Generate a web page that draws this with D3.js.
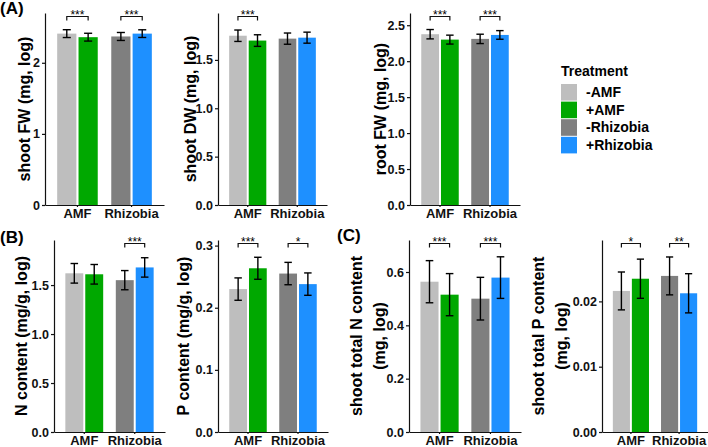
<!DOCTYPE html>
<html>
<head>
<meta charset="utf-8">
<script src="https://cdn.jsdelivr.net/npm/d3@7"></script>
<style>
body { margin: 0; background: #fff; }
svg text { font-family: "Liberation Sans", Arial, sans-serif; font-weight: bold; }
</style>
</head>
<body>
<svg id="chart" width="708" height="447"></svg>
<script>
// ---- data ----
var groups = ['AMF', 'Rhizobia'];
var treatments = ['-AMF', '+AMF', '-Rhizobia', '+Rhizobia'];

var shootFW = [2.41, 2.36, 2.37, 2.41];
var shootFWErr = [0.055, 0.055, 0.056, 0.054];
var shootFWSig = ['***', '***'];

var shootDW = [1.75, 1.70, 1.72, 1.73];
var shootDWErr = [0.059, 0.06, 0.058, 0.057];
var shootDWSig = ['***', ''];

var rootFW = [2.375, 2.30, 2.31, 2.365];
var rootFWErr = [0.065, 0.062, 0.065, 0.06];
var rootFWSig = ['***', '***'];

var nContent = [1.62, 1.61, 1.55, 1.68];
var nContentErr = [0.1, 0.1, 0.098, 0.099];
var nContentSig = ['', '***'];

var pContent = [0.230, 0.2635, 0.255, 0.238];
var pContentErr = [0.018, 0.0177, 0.018, 0.018];
var pContentSig = ['***', '*'];

var totalN = [0.5636, 0.515, 0.50, 0.579];
var totalNErr = [0.079, 0.079, 0.08, 0.078];
var totalNSig = ['***', '***'];

var totalP = [0.0216, 0.02347, 0.0239, 0.02124];
var totalPErr = [0.0029, 0.003, 0.0029, 0.003];
var totalPSig = ['*', '**'];

var palette = ['#bebebe', '#00a800', '#7f7f7f', '#1e90ff'];

var svg = d3.select('#chart');

// layout of each small plot
var panels = [
    {vals: shootFW, errs: shootFWErr, sig: shootFWSig, x0: 45, x1: 164, y0: 13, y1: 205,
     ymax: 2.7, ticks: [0, 1, 2], fmt: 'd', label: ['shoot FW (mg, log)'], lx: [24]},
    {vals: shootDW, errs: shootDWErr, sig: shootDWSig, x0: 218, x1: 327, y0: 13, y1: 205,
     ymax: 1.985, ticks: [0, 0.5, 1, 1.5], fmt: '.1f', label: ['shoot DW (mg, log)'], lx: [190]},
    {vals: rootFW, errs: rootFWErr, sig: rootFWSig, x0: 410, x1: 520, y0: 13, y1: 205,
     ymax: 2.67, ticks: [0, 0.5, 1, 1.5, 2, 2.5], fmt: '.1f', label: ['root FW (mg, log)'], lx: [380]},
    {vals: nContent, errs: nContentErr, sig: nContentSig, x0: 54, x1: 165, y0: 240, y1: 432,
     ymax: 1.96, ticks: [0, 0.5, 1, 1.5], fmt: '.1f', label: ['N content (mg/g, log)'], lx: [21]},
    {vals: pContent, errs: pContentErr, sig: pContentSig, x0: 218, x1: 328, y0: 240, y1: 432,
     ymax: 0.309, ticks: [0, 0.1, 0.2, 0.3], fmt: '.1f', label: ['P content (mg/g, log)'], lx: [183]},
    {vals: totalN, errs: totalNErr, sig: totalNSig, x0: 409, x1: 521, y0: 240, y1: 432,
     ymax: 0.72, ticks: [0, 0.2, 0.4, 0.6], fmt: '.1f', label: ['shoot total N content', '(mg, log)'], lx: [356, 379]},
    {vals: totalP, errs: totalPErr, sig: totalPSig, x0: 602, x1: 708, y0: 240, y1: 432,
     ymax: 0.0294, ticks: [0, 0.01, 0.02], fmt: '.2f', label: ['shoot total P content', '(mg, log)'], lx: [538, 561]}
];

panels.forEach(drawPanel);

function drawPanel(p) {
    var g = svg.append('g');
    var x = d3.scaleBand().domain(groups).range([p.x0, p.x1])
        .paddingInner(0.25).paddingOuter(0.225);
    var xs = d3.scaleBand().domain([0, 1]).range([0, x.bandwidth()]).paddingInner(0.1);
    var y = d3.scaleLinear().domain([0, p.ymax]).range([p.y1, p.y0]);

    var data = p.vals.map(function(v, i) {
        return {v: v, e: p.errs[i], g: groups[Math.floor(i / 2)], s: i % 2, c: palette[i]};
    });
    function cx(d) { return x(d.g) + xs(d.s) + xs.bandwidth() / 2; }

    g.selectAll('.bar')
        .data(data)
        .enter().append('rect')
        .attr('class', 'bar')
        .attr('x', function(d) { return x(d.g) + xs(d.s); })
        .attr('width', xs.bandwidth())
        .attr('y', function(d) { return y(d.v); })
        .attr('height', function(d) { return y(0) - y(d.v); })
        .style('fill', function(d) { return d.c; });

    // error bars
    var capW = xs.bandwidth() * 0.42;
    var eb = g.selectAll('.err').data(data).enter().append('g').attr('class', 'err')
        .style('stroke', '#000').style('stroke-width', 1.4);
    eb.append('line')
        .attr('x1', cx).attr('x2', cx)
        .attr('y1', function(d) { return y(d.v - d.e); })
        .attr('y2', function(d) { return y(d.v + d.e); });
    eb.append('line')
        .attr('x1', function(d) { return cx(d) - capW / 2; })
        .attr('x2', function(d) { return cx(d) + capW / 2; })
        .attr('y1', function(d) { return y(d.v + d.e); })
        .attr('y2', function(d) { return y(d.v + d.e); });
    eb.append('line')
        .attr('x1', function(d) { return cx(d) - capW / 2; })
        .attr('x2', function(d) { return cx(d) + capW / 2; })
        .attr('y1', function(d) { return y(d.v - d.e); })
        .attr('y2', function(d) { return y(d.v - d.e); });

    // axes
    var yAxis = d3.axisLeft(y).tickValues(p.ticks).tickFormat(d3.format(p.fmt))
        .tickSize(3).tickSizeOuter(0).tickPadding(2);
    var ya = g.append('g').attr('transform', 'translate(' + p.x0 + ',0)').call(yAxis);
    ya.selectAll('text').style('font-size', '12.5px').style('fill', '#111');

    var xAxis = d3.axisBottom(x).tickSize(2).tickSizeOuter(0).tickPadding(1.5);
    var xa = g.append('g').attr('transform', 'translate(0,' + p.y1 + ')').call(xAxis);
    xa.selectAll('text').style('font-size', '13px').style('fill', '#111');
    g.selectAll('.domain, .tick line').style('stroke', '#111').style('stroke-width', 1.2);

    // significance brackets
    var yb = y(p.ymax) + 3.5;
    groups.forEach(function(gr, j) {
        if (!p.sig[j]) return;
        var a = cx(data[j * 2]), b = cx(data[j * 2 + 1]);
        g.append('path')
            .attr('d', 'M' + a + ',' + (yb + 4) + 'V' + yb + 'H' + b + 'V' + (yb + 4))
            .style('fill', 'none').style('stroke', '#111').style('stroke-width', 1.2);
        g.append('text')
            .attr('x', (a + b) / 2).attr('y', yb + 2.5)
            .attr('text-anchor', 'middle')
            .style('font-size', '12px').style('font-weight', 'normal')
            .text(p.sig[j]);
    });

    // y title
    var yc = (p.y0 + p.y1) / 2;
    p.label.forEach(function(t, k) {
        g.append('text')
            .attr('transform', 'translate(' + p.lx[k] + ',' + yc + ') rotate(-90)')
            .attr('text-anchor', 'middle')
            .attr('dy', '0.35em')
            .style('font-size', '16px')
            .text(t);
    });
}

// panel letters
svg.append('text').attr('x', 0).attr('y', 14).style('font-size', '17px').text('(A)');
svg.append('text').attr('x', 0).attr('y', 243).style('font-size', '17px').text('(B)');
svg.append('text').attr('x', 337).attr('y', 241).style('font-size', '17px').text('(C)');

// legend
var legend = svg.append('g').attr('transform', 'translate(561,0)');
legend.append('text').attr('x', 0).attr('y', 75.5).style('font-size', '14px').text('Treatment');
var items = legend.selectAll('.item').data(treatments).enter().append('g')
    .attr('class', 'item')
    .attr('transform', function(d, i) { return 'translate(0,' + (84 + i * 17.6) + ')'; });
items.append('rect').attr('width', 16).attr('height', 16.6)
    .style('fill', function(d, i) { return palette[i]; });
items.append('text').attr('x', 25).attr('y', 8.3).attr('dy', '0.35em')
    .style('font-size', '14px').text(function(d) { return d; });
</script>
</body>
</html>
